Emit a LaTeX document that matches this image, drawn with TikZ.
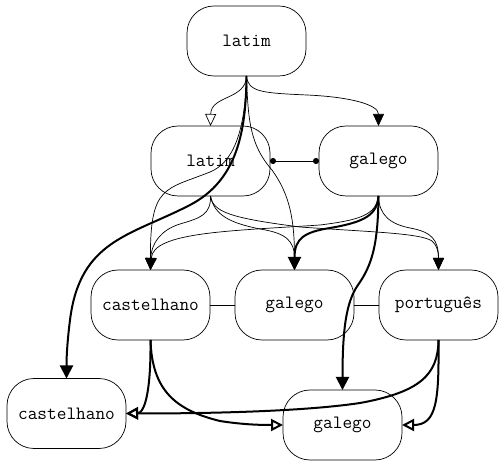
\documentclass[tikz,border=0pt]{standalone}
\usepackage{fontspec}
\usetikzlibrary{arrows.meta}
\tikzset{
  lang/.style={draw, rounded corners=27pt, minimum width=119pt, minimum height=70pt,
    inner sep=0pt, outer sep=0pt, line width=0.7pt, font=\ttfamily\fontsize{18.8}{22}\selectfont},
  thinarr/.style={line width=0.7pt, -{Triangle[length=12pt,width=11pt]}},
  thinopen/.style={line width=0.7pt, -{Triangle[open,length=12pt,width=11pt]}},
  thickarr/.style={line width=2pt, -{Triangle[length=13pt,width=13pt]}},
  thickopen/.style={line width=2pt, -{Triangle[open,length=12pt,width=12pt]}},
  dotline/.style={line width=0.7pt, {Circle[length=6pt]}-{Circle[length=6pt]}},
  plainline/.style={line width=0.7pt}
}
\begin{document}
\begin{tikzpicture}[x=1pt,y=-1pt]
\useasboundingbox (0,0) rectangle (501,470);
\node[lang] (lt) at (246.5,41) {latim};
\node[lang] (lm) at (210.5,161) {latim};
\node[lang] (gm) at (378.5,161) {galego};
\node[lang] (c3) at (150.5,305) {castelhano};
\node[lang] (g3) at (294.5,305) {galego};
\node[lang] (p3) at (438.5,305) {português};
\node[lang] (cb) at (66.5,413.5) {castelhano};
\node[lang] (gb) at (342.5,425) {galego};

% from latim (top)
\draw[thinopen] (lt.south) .. controls (246,100) and (211,95) .. (lm.north);
\draw[thinarr] (lt.south) .. controls (248,92) and (262,93) .. (307,95)
  .. controls (352,97) and (378.5,105) .. (gm.north);
\draw[thickarr] (lt.south) .. controls (246,130) and (238,180) .. (190,205)
  .. controls (130,236) and (80,240) .. (70,320)
  .. controls (67.5,340) and (66.5,355) .. (cb.north);
\draw[thinarr] (lt.south) .. controls (245,135) and (232,163) .. (210,172)
  .. controls (165,190) and (150,185) .. (c3.north);
\draw[thinarr] (lt.south) .. controls (248,120) and (250,145) .. (272,170)
  .. controls (290,195) and (294.5,220) .. (g3.north);

% from latim (middle)
\draw[dotline] (lm.east) -- (gm.west);
\draw[thinarr] (lm.south) .. controls (211,215) and (200,218) .. (180,224)
  .. controls (160,230) and (151,245) .. (c3.north);
\draw[thinarr] (lm.south) .. controls (214,215) and (230,223) .. (260,229)
  .. controls (285,233) and (294.5,240) .. (g3.north);
\draw[thinarr] (lm.south) .. controls (213,212) and (230,218) .. (300,227)
  .. controls (370,232) and (420,233) .. (432,241)
  .. controls (437,245) and (438.5,252) .. (p3.north);

% from galego (middle)
\draw[thinarr] (gm.south) .. controls (376,215) and (360,220) .. (320,225)
  .. controls (230,231) and (153,232) .. (c3.north);
\draw[thickarr] (gm.south) .. controls (377,215) and (365,222) .. (330,228)
  .. controls (305,232) and (294.5,238) .. (g3.north);
\draw[thinarr] (gm.south) .. controls (379,215) and (390,224) .. (410,228)
  .. controls (432,232) and (438.5,240) .. (p3.north);
\draw[thickarr] (gm.south) .. controls (378,245) and (372,265) .. (358,285)
  .. controls (346,302) and (342.5,330) .. (gb.north);

% third row
\draw[plainline] (c3.east) -- (g3.west);
\draw[plainline] (g3.east) -- (p3.west);
\draw[thickopen] (c3.south) .. controls (151,390) and (145,413) .. (cb.east);
\draw[thickopen] (c3.south) .. controls (152,390) and (175,410) .. (220,421)
  .. controls (245,425) and (265,425) .. (gb.west);
\draw[thickopen] (p3.south) .. controls (438,375) and (420,392) .. (360,403)
  .. controls (300,412) and (200,413.5) .. (cb.east);
\draw[thickopen] (p3.south) .. controls (439,400) and (437,425) .. (gb.east);
\end{tikzpicture}
\end{document}
